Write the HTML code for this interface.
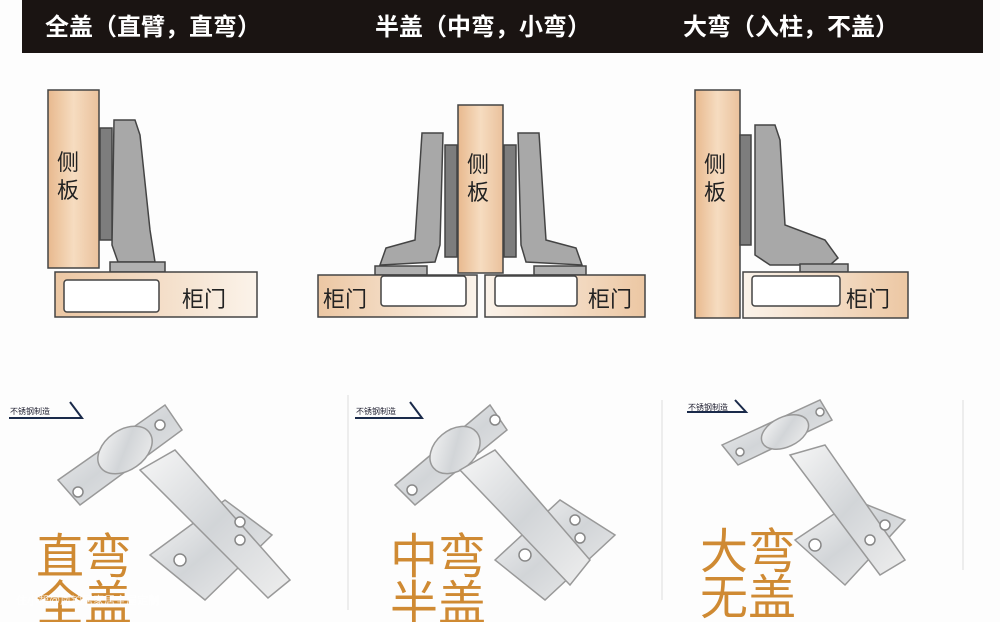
<!DOCTYPE html>
<html><head><meta charset="utf-8"><style>
html,body{margin:0;padding:0;background:#fff;}
svg{display:block;}
text{font-family:"Liberation Sans","Noto Sans CJK SC",sans-serif;}
</style></head><body>
<svg width="1000" height="622" viewBox="0 0 1000 622" xmlns="http://www.w3.org/2000/svg">
<defs>
<linearGradient id="wood" x1="0" x2="1" y1="0" y2="0"><stop offset="0" stop-color="#e8b98e"/><stop offset="0.5" stop-color="#f6dcc0"/><stop offset="1" stop-color="#eac19c"/></linearGradient>
<linearGradient id="door" x1="0" x2="1"><stop offset="0" stop-color="#ecc7a3"/><stop offset="1" stop-color="#fbf3ea"/></linearGradient>
<linearGradient id="door2" x1="1" x2="0"><stop offset="0" stop-color="#ecc7a3"/><stop offset="1" stop-color="#fbf3ea"/></linearGradient>
<linearGradient id="metal" x1="0" x2="1" y1="0" y2="1"><stop offset="0" stop-color="#f7f7f7"/><stop offset="0.5" stop-color="#d2d5d8"/><stop offset="1" stop-color="#eeeeee"/></linearGradient>
</defs>
<rect width="1000" height="622" fill="#fdfdfd"/>
<rect x="22" y="0" width="961" height="53" fill="#1a1412"/>
<g fill="#fff" font-size="24" font-weight="bold">
<text x="45" y="35">全盖（直臂，直弯）</text>
<text x="375" y="35">半盖（中弯，小弯）</text>
<text x="683" y="35">大弯（入柱，不盖）</text>
</g>
<g stroke="#444" stroke-width="1.5">
<rect x="48" y="90" width="51" height="178" fill="url(#wood)"/>
<rect x="100" y="128" width="12" height="112" fill="#7d7d7d"/>
<path d="M114 120 L135 120 L140 135 L150 230 L155 262 L118 262 L112 245 Z" fill="#a8a8a8"/>
<rect x="110" y="262" width="55" height="10" fill="#b0b0b0"/>
<rect x="55" y="272" width="202" height="45" fill="url(#door)"/>
<rect x="64" y="280" width="95" height="32" rx="3" fill="#fff"/>
<rect x="458" y="105" width="45" height="168" fill="url(#wood)"/>
<rect x="445" y="145" width="12" height="112" fill="#7d7d7d"/>
<rect x="504" y="145" width="12" height="112" fill="#7d7d7d"/>
<path d="M422 133 L443 133 L440 245 L435 262 L380 265 L386 248 L415 240 Z" fill="#a8a8a8"/>
<path d="M539 133 L518 133 L521 245 L526 262 L582 265 L576 248 L546 240 Z" fill="#a8a8a8"/>
<rect x="375" y="266" width="52" height="9" fill="#b0b0b0"/>
<rect x="534" y="266" width="52" height="9" fill="#b0b0b0"/>
<rect x="318" y="275" width="159" height="42" fill="url(#door)"/>
<rect x="485" y="275" width="160" height="42" fill="url(#door2)"/>
<rect x="381" y="276" width="85" height="30" rx="3" fill="#fff"/>
<rect x="495" y="276" width="82" height="30" rx="3" fill="#fff"/>
<rect x="695" y="90" width="45" height="228" fill="url(#wood)"/>
<rect x="740" y="135" width="11" height="110" fill="#7d7d7d"/>
<path d="M755 125 L775 125 L780 140 L785 225 L825 240 L838 258 L830 265 L770 265 L755 255 Z" fill="#a8a8a8"/>
<rect x="800" y="264" width="48" height="8" fill="#b0b0b0"/>
<rect x="743" y="272" width="165" height="46" fill="url(#door2)"/>
<rect x="752" y="276" width="88" height="30" rx="3" fill="#fff"/>
</g>
<g fill="#222" font-size="22">
<text x="57" y="170">侧</text><text x="57" y="198">板</text>
<text x="467" y="172">侧</text><text x="467" y="200">板</text>
<text x="704" y="172">侧</text><text x="704" y="200">板</text>
<text x="182" y="307">柜门</text>
<text x="323" y="307">柜门</text>
<text x="588" y="307">柜门</text>
<text x="846" y="307">柜门</text>
</g>
<line x1="348" y1="395" x2="348" y2="610" stroke="#ddd"/>
<line x1="662" y1="400" x2="662" y2="600" stroke="#ddd"/>
<line x1="963" y1="400" x2="963" y2="570" stroke="#ddd"/>
<g fill="#223" font-size="8"><text x="10" y="414">不锈钢制造</text><text x="356" y="414">不锈钢制造</text><text x="688" y="410">不锈钢制造</text></g>
<g stroke="#1a2a4a" stroke-width="2" fill="none">
<path d="M9 418 L82 418 L70 402"/><path d="M355 418 L422 418 L410 402"/><path d="M687 412 L746 412 L735 400"/>
</g>
<g stroke="#999" stroke-width="1.5" fill="url(#metal)">
<path d="M58 480 L165 405 L182 430 L80 505 Z"/>
<ellipse cx="125" cy="450" rx="30" ry="20" transform="rotate(-35 125 450)"/>
<path d="M150 555 L225 500 L272 535 L205 600 Z"/>
<path d="M140 470 L175 450 L290 580 L268 598 Z"/>
<path d="M395 485 L490 405 L507 430 L415 505 Z"/>
<ellipse cx="455" cy="450" rx="28" ry="20" transform="rotate(-40 455 450)"/>
<path d="M495 560 L560 500 L615 535 L545 600 Z"/>
<path d="M460 470 L495 450 L590 560 L570 585 Z"/>
<path d="M722 445 L820 400 L832 420 L738 465 Z"/>
<ellipse cx="785" cy="432" rx="25" ry="15" transform="rotate(-25 785 432)"/>
<path d="M795 540 L855 500 L905 520 L845 585 Z"/>
<path d="M790 455 L825 445 L905 560 L880 575 Z"/>
</g>
<g fill="#fff" stroke="#888" stroke-width="1.5">
<circle cx="160" cy="425" r="5"/><circle cx="78" cy="492" r="5"/>
<circle cx="495" cy="420" r="5"/><circle cx="412" cy="490" r="5"/>
<circle cx="820" cy="412" r="4"/><circle cx="740" cy="452" r="4"/>
<circle cx="240" cy="522" r="5"/><circle cx="240" cy="540" r="5"/><circle cx="180" cy="560" r="6"/>
<circle cx="575" cy="520" r="5"/><circle cx="580" cy="538" r="5"/><circle cx="525" cy="555" r="6"/>
<circle cx="885" cy="525" r="5"/><circle cx="870" cy="540" r="5"/><circle cx="815" cy="545" r="6"/>
</g>
<g fill="#cf8a33" font-size="48">
<text x="36" y="573">直弯</text><text x="36" y="620">全盖</text>
<text x="390" y="573">中弯</text><text x="390" y="620">半盖</text>
<text x="700" y="568">大弯</text><text x="700" y="614">无盖</text>
</g>
<text x="16" y="604" font-size="11" fill="#fff" opacity="0.8">住小帮@凤铂居家居全屋定制</text>
</svg>
</body></html>
